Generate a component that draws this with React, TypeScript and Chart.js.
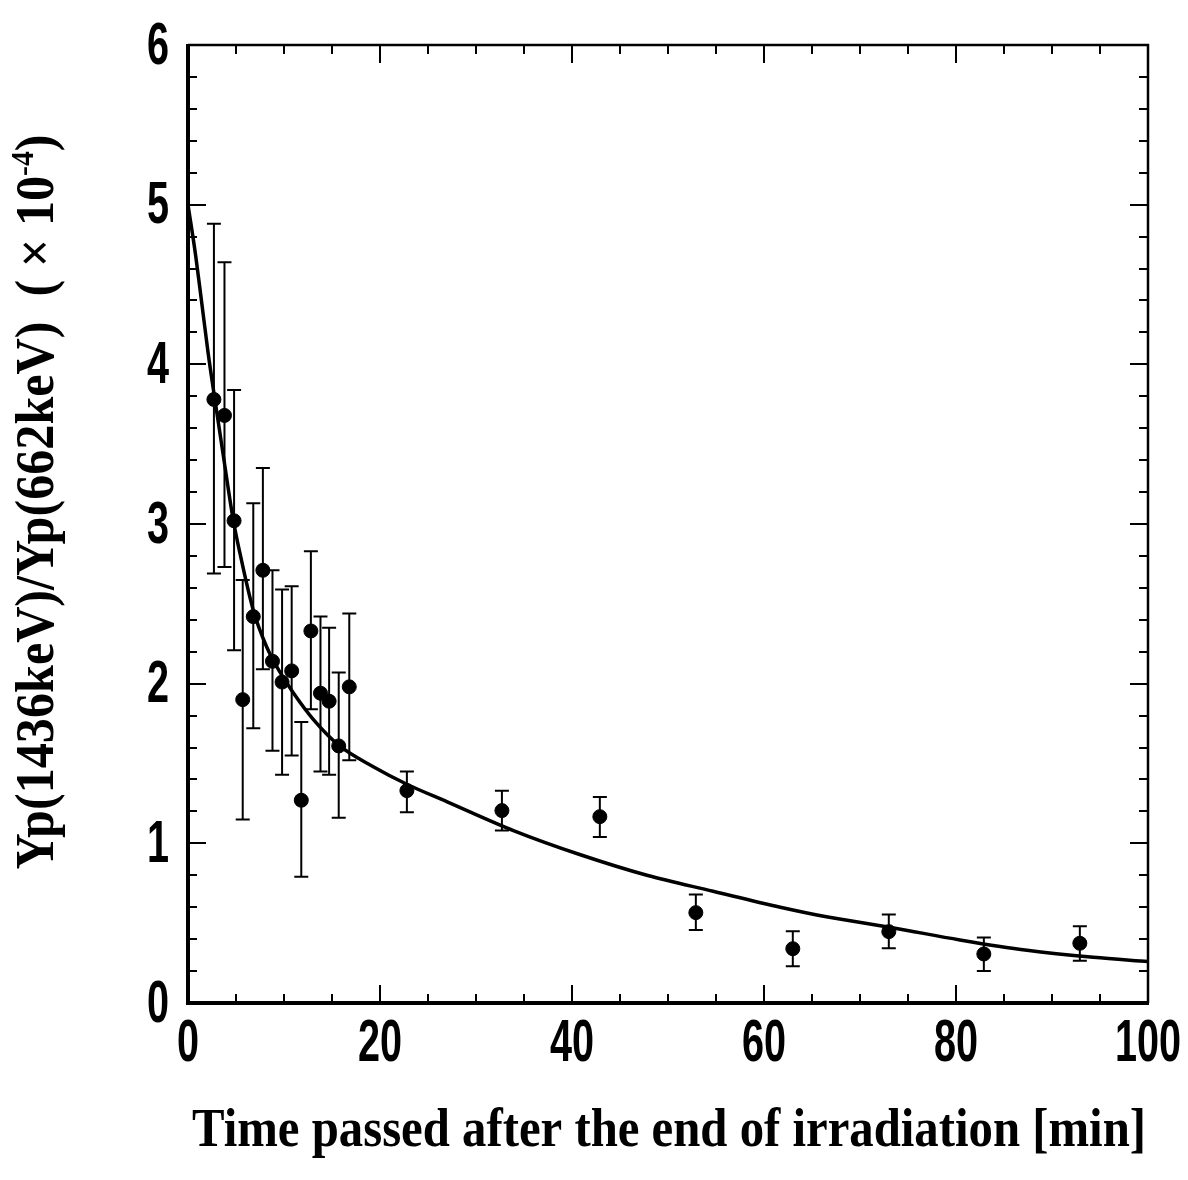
import { useEffect, useRef } from "react";
import { Chart, registerables } from "chart.js";

Chart.register(...registerables);

// Measured data (time after end of irradiation [min], ratio ×10^-4)
const timeMin = [2.7, 3.8, 4.8, 5.7, 6.8, 7.8, 8.8, 9.8, 10.8, 11.8, 12.8, 13.8, 14.7, 15.7, 16.8, 22.8, 32.7, 42.9, 52.9, 63.0, 73.0, 82.9, 92.9];
const ratio = [3.78, 3.68, 3.02, 1.9, 2.42, 2.71, 2.14, 2.01, 2.08, 1.27, 2.33, 1.94, 1.89, 1.61, 1.98, 1.33, 1.205, 1.167, 0.566, 0.34, 0.447, 0.307, 0.374];
const errUpper = [4.88, 4.64, 3.84, 2.65, 3.13, 3.35, 2.71, 2.59, 2.61, 1.76, 2.83, 2.42, 2.35, 2.07, 2.44, 1.45, 1.33, 1.29, 0.68, 0.45, 0.555, 0.41, 0.48];
const errLower = [2.69, 2.73, 2.21, 1.15, 1.72, 2.09, 1.58, 1.43, 1.55, 0.79, 1.84, 1.45, 1.43, 1.16, 1.52, 1.195, 1.08, 1.04, 0.457, 0.23, 0.343, 0.2, 0.265];

// Fitted curve
const fitTime = [0, 0.8, 1.4, 2.1, 2.8, 3.7, 4.7, 5.4, 6.8, 8.2, 9.6, 11, 13, 15.8, 19.3, 22.8, 27, 33.9, 40.8, 47.8, 54.7, 61.7, 66.5, 73.5, 80.4, 87.4, 94.3, 100];
const fitRatio = [5.0, 4.68, 4.4, 4.07, 3.78, 3.42, 3.03, 2.82, 2.46, 2.23, 2.07, 1.94, 1.78, 1.61, 1.48, 1.37, 1.26, 1.08, 0.93, 0.8, 0.7, 0.6, 0.54, 0.47, 0.395, 0.33, 0.286, 0.26];

const xMin = 0, xMax = 100, xMajor = 20, xMinor = 5;
const yMin = 0, yMax = 6, yMajor = 1, yMinor = 0.2;

const xTitle = "Time passed after the end of irradiation [min]";
const yTitleMain = "Yp(1436keV)/Yp(662keV)  ( × 10";
const yTitleSup = "-4";
const yTitleTail = ")";

const decorPlugin = {
  id: "decor",
  beforeDraw(chart: any) {
    const ctx = chart.ctx;
    ctx.save();
    ctx.fillStyle = "#ffffff";
    ctx.fillRect(0, 0, chart.width, chart.height);
    ctx.restore();
  },
  beforeDatasetsDraw(chart: any) {
    const ctx = chart.ctx;
    const xs = chart.scales.x;
    const ys = chart.scales.y;
    ctx.save();
    ctx.strokeStyle = "#000";
    ctx.lineWidth = 2;
    const cap = 7;
    for (let i = 0; i < timeMin.length; i++) {
      const px = xs.getPixelForValue(timeMin[i]);
      const pt = ys.getPixelForValue(errUpper[i]);
      const pb = ys.getPixelForValue(errLower[i]);
      ctx.beginPath();
      ctx.moveTo(px, pt);
      ctx.lineTo(px, pb);
      ctx.moveTo(px - cap, pt);
      ctx.lineTo(px + cap, pt);
      ctx.moveTo(px - cap, pb);
      ctx.lineTo(px + cap, pb);
      ctx.stroke();
    }
    ctx.restore();
  },
  afterDraw(chart: any) {
    const ctx = chart.ctx;
    const xs = chart.scales.x;
    const ys = chart.scales.y;
    const { left, right, top, bottom } = chart.chartArea;
    ctx.save();
    ctx.strokeStyle = "#000";
    ctx.fillStyle = "#000";

    // frame
    ctx.lineWidth = 4;
    ctx.beginPath();
    ctx.moveTo(left, top - 1);
    ctx.lineTo(left, bottom);
    ctx.lineTo(right + 1, bottom);
    ctx.stroke();
    ctx.lineWidth = 2.5;
    ctx.beginPath();
    ctx.moveTo(left, top);
    ctx.lineTo(right, top);
    ctx.lineTo(right, bottom);
    ctx.stroke();

    // ticks
    const majLen = 18, minLen = 9;
    ctx.lineWidth = 2;
    const eps = 1e-6;
    const nY = Math.round((yMax - yMin) / yMinor);
    for (let k = 0; k <= nY; k++) {
      const v = yMin + k * yMinor;
      const isMaj = Math.abs(v / yMajor - Math.round(v / yMajor)) < eps;
      const len = isMaj ? majLen : minLen;
      const py = Math.round(ys.getPixelForValue(v));
      ctx.beginPath();
      ctx.moveTo(left, py);
      ctx.lineTo(left + len, py);
      ctx.moveTo(right, py);
      ctx.lineTo(right - len, py);
      ctx.stroke();
    }
    const nX = Math.round((xMax - xMin) / xMinor);
    for (let k = 0; k <= nX; k++) {
      const v = xMin + k * xMinor;
      const isMaj = Math.abs(v / xMajor - Math.round(v / xMajor)) < eps;
      const len = isMaj ? majLen : minLen;
      const px = Math.round(xs.getPixelForValue(v));
      ctx.beginPath();
      ctx.moveTo(px, bottom);
      ctx.lineTo(px, bottom - len);
      ctx.moveTo(px, top);
      ctx.lineTo(px, top + len);
      ctx.stroke();
    }

    // tick labels (condensed sans)
    const tickFont = "bold 60px 'Liberation Sans', Arial, sans-serif";
    const sx = 0.66;
    ctx.font = tickFont;
    ctx.textBaseline = "middle";
    for (const t of ys.ticks) {
      const py = ys.getPixelForValue(t.value);
      const label = String(t.value);
      const w = ctx.measureText(label).width * sx;
      ctx.save();
      ctx.translate(169 - w, py + 2);
      ctx.scale(sx, 1);
      ctx.textAlign = "left";
      ctx.fillText(label, 0, 0);
      ctx.restore();
    }
    ctx.textBaseline = "top";
    for (const t of xs.ticks) {
      const px = xs.getPixelForValue(t.value);
      const label = String(t.value);
      ctx.save();
      ctx.translate(px, bottom + 11);
      ctx.scale(sx, 1);
      ctx.textAlign = "center";
      ctx.fillText(label, 0, 0);
      ctx.restore();
    }

    // x title
    const titleFont = "bold 54px 'Liberation Serif', 'Times New Roman', serif";
    ctx.font = titleFont;
    ctx.textBaseline = "alphabetic";
    ctx.textAlign = "left";
    const xw = ctx.measureText(xTitle).width;
    const xTarget = 954;
    ctx.save();
    ctx.translate(669, 1146);
    ctx.scale(xTarget / xw, 1);
    ctx.fillText(xTitle, -xw / 2, 0);
    ctx.restore();

    // y title with superscript
    const supFont = "bold 32px 'Liberation Serif', 'Times New Roman', serif";
    ctx.font = titleFont;
    const w1 = ctx.measureText(yTitleMain).width;
    const w3 = ctx.measureText(yTitleTail).width;
    ctx.font = supFont;
    const w2 = ctx.measureText(yTitleSup).width;
    const W = w1 + w2 + w3;
    const yTarget = 735;
    ctx.save();
    ctx.translate(53, 502);
    ctx.rotate(-Math.PI / 2);
    ctx.scale(yTarget / W, 1);
    ctx.font = titleFont;
    ctx.fillText(yTitleMain, -W / 2, 0);
    ctx.font = supFont;
    ctx.fillText(yTitleSup, -W / 2 + w1, -20);
    ctx.font = titleFont;
    ctx.fillText(yTitleTail, -W / 2 + w1 + w2, 0);
    ctx.restore();

    ctx.restore();
  },
};

export default function App() {
  const ref = useRef<HTMLCanvasElement | null>(null);
  useEffect(() => {
    if (!ref.current) return;
    const chart = new Chart(ref.current, {
      type: "scatter",
      data: {
        datasets: [
          {
            type: "line",
            label: "fit",
            data: fitTime.map((t, i) => ({ x: t, y: fitRatio[i] })),
            borderColor: "#000",
            borderWidth: 3.5,
            pointRadius: 0,
            fill: false,
            cubicInterpolationMode: "monotone",
            clip: false,
          } as any,
          {
            type: "scatter",
            label: "data",
            data: timeMin.map((t, i) => ({ x: t, y: ratio[i] })),
            backgroundColor: "#000",
            borderColor: "#000",
            pointRadius: 7,
            pointHoverRadius: 7,
            clip: false,
          } as any,
        ],
      },
      options: {
        responsive: false,
        animation: false,
        devicePixelRatio: 1,
        layout: { padding: { left: 0, top: 45, right: 40, bottom: 0 } },
        plugins: { legend: { display: false }, tooltip: { enabled: false } },
        events: [],
        scales: {
          x: {
            type: "linear",
            min: xMin,
            max: xMax,
            ticks: { stepSize: xMajor, display: false },
            grid: { display: false },
            border: { display: false },
            afterFit(s: any) {
              s.height = 177;
            },
          },
          y: {
            type: "linear",
            min: yMin,
            max: yMax,
            ticks: { stepSize: yMajor, display: false },
            grid: { display: false },
            border: { display: false },
            afterFit(s: any) {
              s.width = 188;
            },
          },
        },
      } as any,
      plugins: [decorPlugin],
    });
    return () => chart.destroy();
  }, []);
  return (
    <div style={{ position: "absolute", left: 0, top: 0, width: 1188, height: 1180, background: "#fff" }}>
      <canvas ref={ref} width={1188} height={1180} style={{ display: "block", width: 1188, height: 1180 }} />
    </div>
  );
}
